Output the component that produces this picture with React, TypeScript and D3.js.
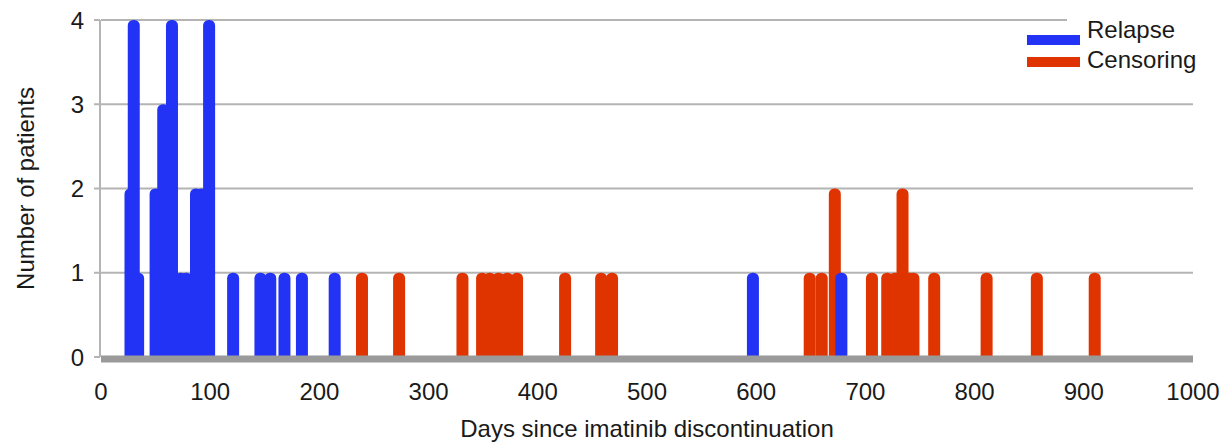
import React from 'react';
import * as d3 from 'd3';

// days since discontinuation and number of patients at that day
const relapseDays = [27, 30, 34, 50, 57, 65, 73, 78, 87, 92, 99, 121, 146, 155, 168, 184, 214, 597, 678];
const relapseCounts = [2, 4, 1, 2, 3, 4, 1, 1, 2, 2, 4, 1, 1, 1, 1, 1, 1, 1, 1];

const censorDays = [239, 273, 331, 349, 356, 364, 372, 381, 425, 458, 468, 649, 660, 672, 706, 720, 727, 734, 741, 744, 763, 811, 857, 910];
const censorCounts = [1, 1, 1, 1, 1, 1, 1, 1, 1, 1, 1, 1, 1, 2, 1, 1, 1, 2, 1, 1, 1, 1, 1, 1];

const xTicks = [0, 100, 200, 300, 400, 500, 600, 700, 800, 900, 1000];
const yTicks = [0, 1, 2, 3, 4];

const legendItems = [
  { label: 'Relapse', color: '#2233f6' },
  { label: 'Censoring', color: '#e03400' },
];

const W = 1223;
const H = 445;
const FONT = '"Liberation Sans", Arial, sans-serif';

const App = () => {
  const x = d3.scaleLinear().domain([0, 1000]).range([101, 1193]);
  const y = d3.scaleLinear().domain([0, 4]).range([357, 20]);
  const barW = 12;

  const bars = (days: number[], counts: number[], color: string) =>
    days.map((d, i) => (
      <rect
        key={color + i}
        x={x(d) - barW / 2}
        y={y(counts[i])}
        width={barW}
        height={y(0) - y(counts[i]) + 5}
        rx={5.5}
        fill={color}
      />
    ));

  return (
    <div style={{ position: 'absolute', left: 0, top: 0 }}>
      <svg width={W} height={H} style={{ display: 'block', background: '#fff' }}>
        {/* grid */}
        {yTicks.filter(t => t > 0).map(t => (
          <line key={t} x1={x(0)} x2={x(1000)} y1={y(t)} y2={y(t)} stroke="#b4b4b4" strokeWidth={2} />
        ))}
        {/* y axis */}
        <line x1={100} x2={100} y1={y(4)} y2={y(0)} stroke="#b4b4b4" strokeWidth={2} />
        {yTicks.map(t => (
          <g key={t}>
            <line x1={94} x2={100} y1={y(t)} y2={y(t)} stroke="#b4b4b4" strokeWidth={2} />
            <text x={84} y={y(t)} dy="0.36em" textAnchor="end" fontSize={24} fontFamily={FONT} fill="#1a1a1a">{t}</text>
          </g>
        ))}

        {bars(censorDays, censorCounts, legendItems[1].color)}
        {bars(relapseDays, relapseCounts, legendItems[0].color)}

        {/* baseline */}
        <rect x={x(0)} y={y(0) - 1.5} width={x(1000) - x(0)} height={7} fill="#9a9a9a" />

        {xTicks.map(t => (
          <text key={t} x={x(t)} y={400} textAnchor="middle" fontSize={24} fontFamily={FONT} fill="#1a1a1a">{t}</text>
        ))}
        <text x={(x(0) + x(1000)) / 2} y={437} textAnchor="middle" fontSize={24} fontFamily={FONT} fill="#1a1a1a">
          Days since imatinib discontinuation
        </text>
        <text
          transform={`translate(34, ${(y(0) + y(4)) / 2}) rotate(-90)`}
          textAnchor="middle"
          fontSize={24}
          fontFamily={FONT}
          fill="#1a1a1a"
        >
          Number of patients
        </text>

        {/* legend */}
        <rect x={1067} y={10} width={156} height={70} fill="#fff" />
        {legendItems.map((it, i) => (
          <g key={it.label}>
            <rect x={1027} y={35 + i * 22} width={53} height={10} fill={it.color} />
            <text x={1087} y={38 + i * 30} fontSize={24} fontFamily={FONT} fill="#1a1a1a">{it.label}</text>
          </g>
        ))}
      </svg>
    </div>
  );
};

export default App;
